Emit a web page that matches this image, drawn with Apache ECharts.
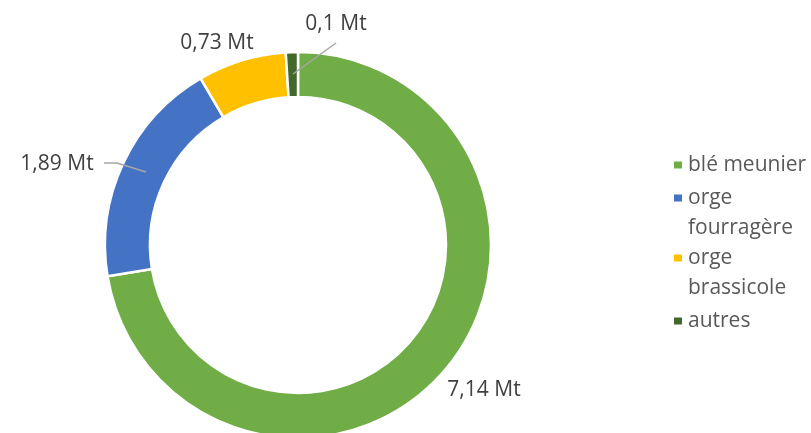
<!DOCTYPE html>
<html>
<head>
<meta charset="utf-8">
<script src="https://cdn.jsdelivr.net/npm/echarts@6/dist/echarts.min.js"></script>
<style>
    html, body { margin: 0; padding: 0; background: #fff; }
    #chart { width: 811px; height: 433px; }
</style>
</head>
<body>
<div id="chart"></div>
<script>
// céréales, en millions de tonnes
const categories = ['blé meunier', 'orge fourragère', 'orge brassicole', 'autres']
const values = [7.14, 1.89, 0.73, 0.1]
const colors = ['#70ad47', '#4472c4', '#ffc000', '#43682b']

// où poser chaque étiquette (centre du texte) et son trait éventuel
const labelSpots = [
    {x: 484, y: 390},
    {x: 57, y: 164, line: [[104, 163], [117, 163], [146, 172]]},
    {x: 217, y: 43},
    {x: 336, y: 24, line: [[336, 43], [336, 43], [293, 74]]},
]
// ligne de l'icône dans la légende
const legendTops = [165, 198, 258, 321]

const font = '"Open Sans", "Liberation Sans", sans-serif'

const chart = echarts.init(document.getElementById('chart'))

const legends = categories.map((name, i) => {
    const wrapped = name.length > 12
    return {
        orient: 'vertical',
        left: 672,
        top: legendTops[i] - (wrapped ? 45 : 15),
        padding: 0,
        itemWidth: 10,
        itemHeight: 9,
        itemGap: 5,
        icon: 'rect',
        data: [name],
        formatter: n => wrapped ? ' \n' + n.replace(' ', '\n') : n,
        textStyle: {
            color: '#595959',
            fontSize: 21,
            lineHeight: 30,
            fontFamily: font,
        },
    }
})

const pieData = categories.map((name, i) => ({
    name,
    value: values[i],
    labelLine: {show: !!labelSpots[i].line},
}))

const ring = {
    type: 'pie',
    center: [298, 245],
    radius: [148, 193],
    startAngle: 90,
    clockwise: true,
    avoidLabelOverlap: false,
    emphasis: {scale: false},
}

chart.setOption({
    backgroundColor: '#fff',
    color: colors,
    animation: false,
    legend: legends,
    series: [
        {
            ...ring,
            itemStyle: {
                borderColor: '#fff',
                borderWidth: 2.5,
            },
            label: {show: false},
            labelLine: {show: false},
            data: pieData,
        },
        // même anneau, transparent, pour que les étiquettes et leurs traits passent devant
        {
            ...ring,
            z: 5,
            silent: true,
            itemStyle: {color: 'rgba(0,0,0,0)', borderWidth: 0},
            emphasis: {disabled: true},
            label: {
                show: true,
                position: 'outside',
                color: '#404040',
                fontSize: 21,
                fontFamily: font,
                formatter: p => String(p.value).replace('.', ',') + ' Mt',
            },
            labelLine: {
                show: true,
                lineStyle: {color: '#a6a6a6', width: 1.5},
            },
            labelLayout: p => {
                const s = labelSpots[p.dataIndex]
                const out = {x: s.x, y: s.y, align: 'center', verticalAlign: 'middle'}
                if (s.line) out.labelLinePoints = s.line
                return out
            },
            data: pieData,
        },
    ],
})
</script>
</body>
</html>
